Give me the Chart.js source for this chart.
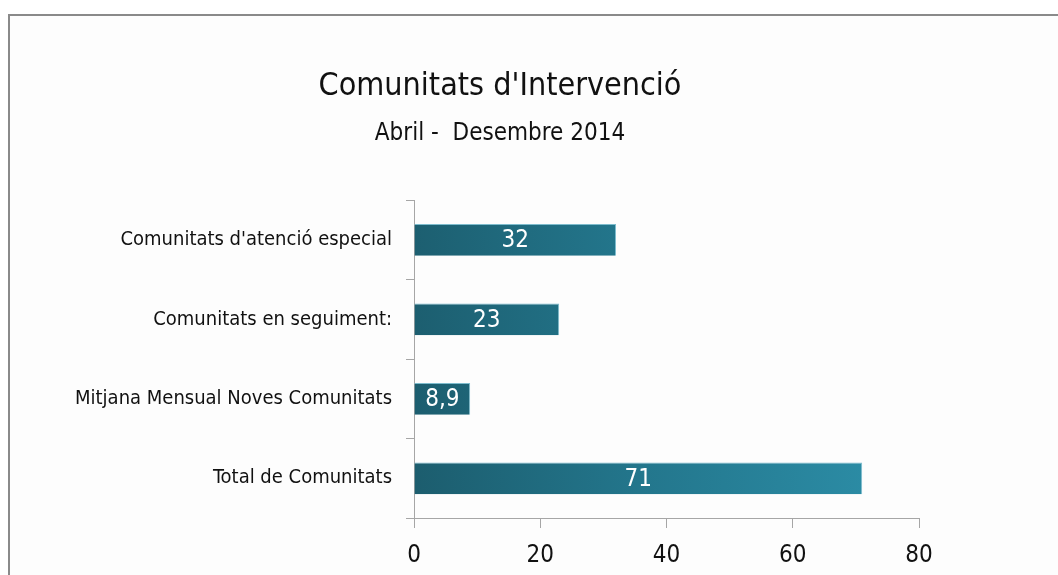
<!DOCTYPE html>
<html>
<head>
<meta charset="utf-8">
<script src="https://cdn.jsdelivr.net/npm/chart.js@4"></script>
<style>
  html, body { margin: 0; padding: 0; background: #ffffff; }
  #wrap { width: 1058px; height: 575px; }
</style>
</head>
<body>
<div id="wrap"><canvas id="chart" width="1058" height="575"></canvas></div>
<script>
const categories = [
  "Comunitats d'atenció especial",
  'Comunitats en seguiment:',
  'Mitjana Mensual Noves Comunitats',
  'Total de Comunitats'
];
const values = [32, 23, 8.9, 71];
const valueLabels = ['32', '23', '8,9', '71'];
const xTicks = [0, 20, 40, 60, 80];

const FONT = "'Liberation Sans Narrow', 'DejaVu Sans Condensed', sans-serif";

// grey frame round the chart (top and left edges visible)
const framePlugin = {
  id: 'frame',
  beforeDraw(chart) {
    const c = chart.ctx;
    c.save();
    c.fillStyle = '#fdfdfd';
    c.fillRect(9, 15, chart.width, chart.height);
    c.strokeStyle = '#8a8a8a';
    c.lineWidth = 2;
    c.beginPath();
    c.moveTo(9, chart.height);
    c.lineTo(9, 15);
    c.lineTo(chart.width, 15);
    c.stroke();
    c.restore();
  }
};

// diagonal teal gradient on each bar, built from the bar's own box
const gradientPlugin = {
  id: 'barGradient',
  beforeDatasetsDraw(chart) {
    const c = chart.ctx;
    chart.getDatasetMeta(0).data.forEach(bar => {
      const h = bar.height;
      const g = c.createLinearGradient(bar.base, bar.y + h / 2, bar.x, bar.y - h / 2);
      g.addColorStop(0, '#1c5d6e');
      g.addColorStop(0.5, '#23768c');
      g.addColorStop(1, '#2b8ba4');
      bar.options.backgroundColor = g;
    });
  }
};

// white value labels in the middle of each bar
const valueLabelPlugin = {
  id: 'valueLabels',
  afterDatasetsDraw(chart) {
    const c = chart.ctx;
    const meta = chart.getDatasetMeta(0);
    c.save();
    c.fillStyle = '#ffffff';
    c.font = '24px ' + FONT;
    c.textAlign = 'center';
    c.textBaseline = 'middle';
    meta.data.forEach((bar, i) => {
      const cx = (bar.base + bar.x) / 2;
      c.fillText(valueLabels[i], cx, bar.y + 1);
    });
    c.restore();
  }
};

const ctx = document.getElementById('chart').getContext('2d');
new Chart(ctx, {
  type: 'bar',
  data: {
    labels: categories,
    datasets: [{
      data: values,
      backgroundColor: '#227a8e',
      borderColor: '#7dbccd',
      borderWidth: { top: 1, bottom: 0, left: 0, right: 1 },
      borderSkipped: false,
      barPercentage: 0.4,
      categoryPercentage: 1.0
    }]
  },
  options: {
    indexAxis: 'y',
    responsive: false,
    animation: false,
    layout: { padding: { left: 20, right: 78, top: 0, bottom: 5 } },
    plugins: {
      legend: { display: false },
      tooltip: { enabled: false },
      title: {
        display: true,
        text: "Comunitats d'Intervenció",
        color: '#111111',
        font: { family: FONT, size: 32, weight: 'normal' },
        padding: { top: 67, bottom: 14 },
        align: 'center'
      },
      subtitle: {
        display: true,
        text: 'Abril -  Desembre 2014',
        color: '#111111',
        font: { family: FONT, size: 24, weight: 'normal' },
        padding: { top: 0, bottom: 52 }
      }
    },
    scales: {
      x: {
        min: 0,
        max: 80,
        afterBuildTicks(scale) { scale.ticks = xTicks.map(v => ({ value: v })); },
        afterFit(scale) { scale.height = 52; },
        grid: {
          drawOnChartArea: false,
          drawTicks: true,
          tickLength: 10,
          color: '#a6a6a6'
        },
        border: { color: '#a6a6a6', width: 1 },
        ticks: {
          color: '#111111',
          font: { family: FONT, size: 24 },
          padding: 13
        }
      },
      y: {
        afterFit(scale) { scale.width = 394; },
        grid: {
          offset: true,
          drawOnChartArea: false,
          drawTicks: true,
          tickLength: 8,
          color: '#a6a6a6'
        },
        border: { color: '#a6a6a6', width: 1 },
        ticks: {
          color: '#111111',
          font: { family: FONT, size: 20 },
          padding: 14
        }
      },
      // empty right-hand spacer so the plot ends at the "80" tick
      spacer: {
        type: 'linear',
        axis: 'y',
        position: 'right',
        afterFit(scale) { scale.width = 61; },
        grid: { display: false },
        border: { display: false },
        ticks: { display: false }
      }
    }
  },
  plugins: [framePlugin, gradientPlugin, valueLabelPlugin]
});
</script>
</body>
</html>
